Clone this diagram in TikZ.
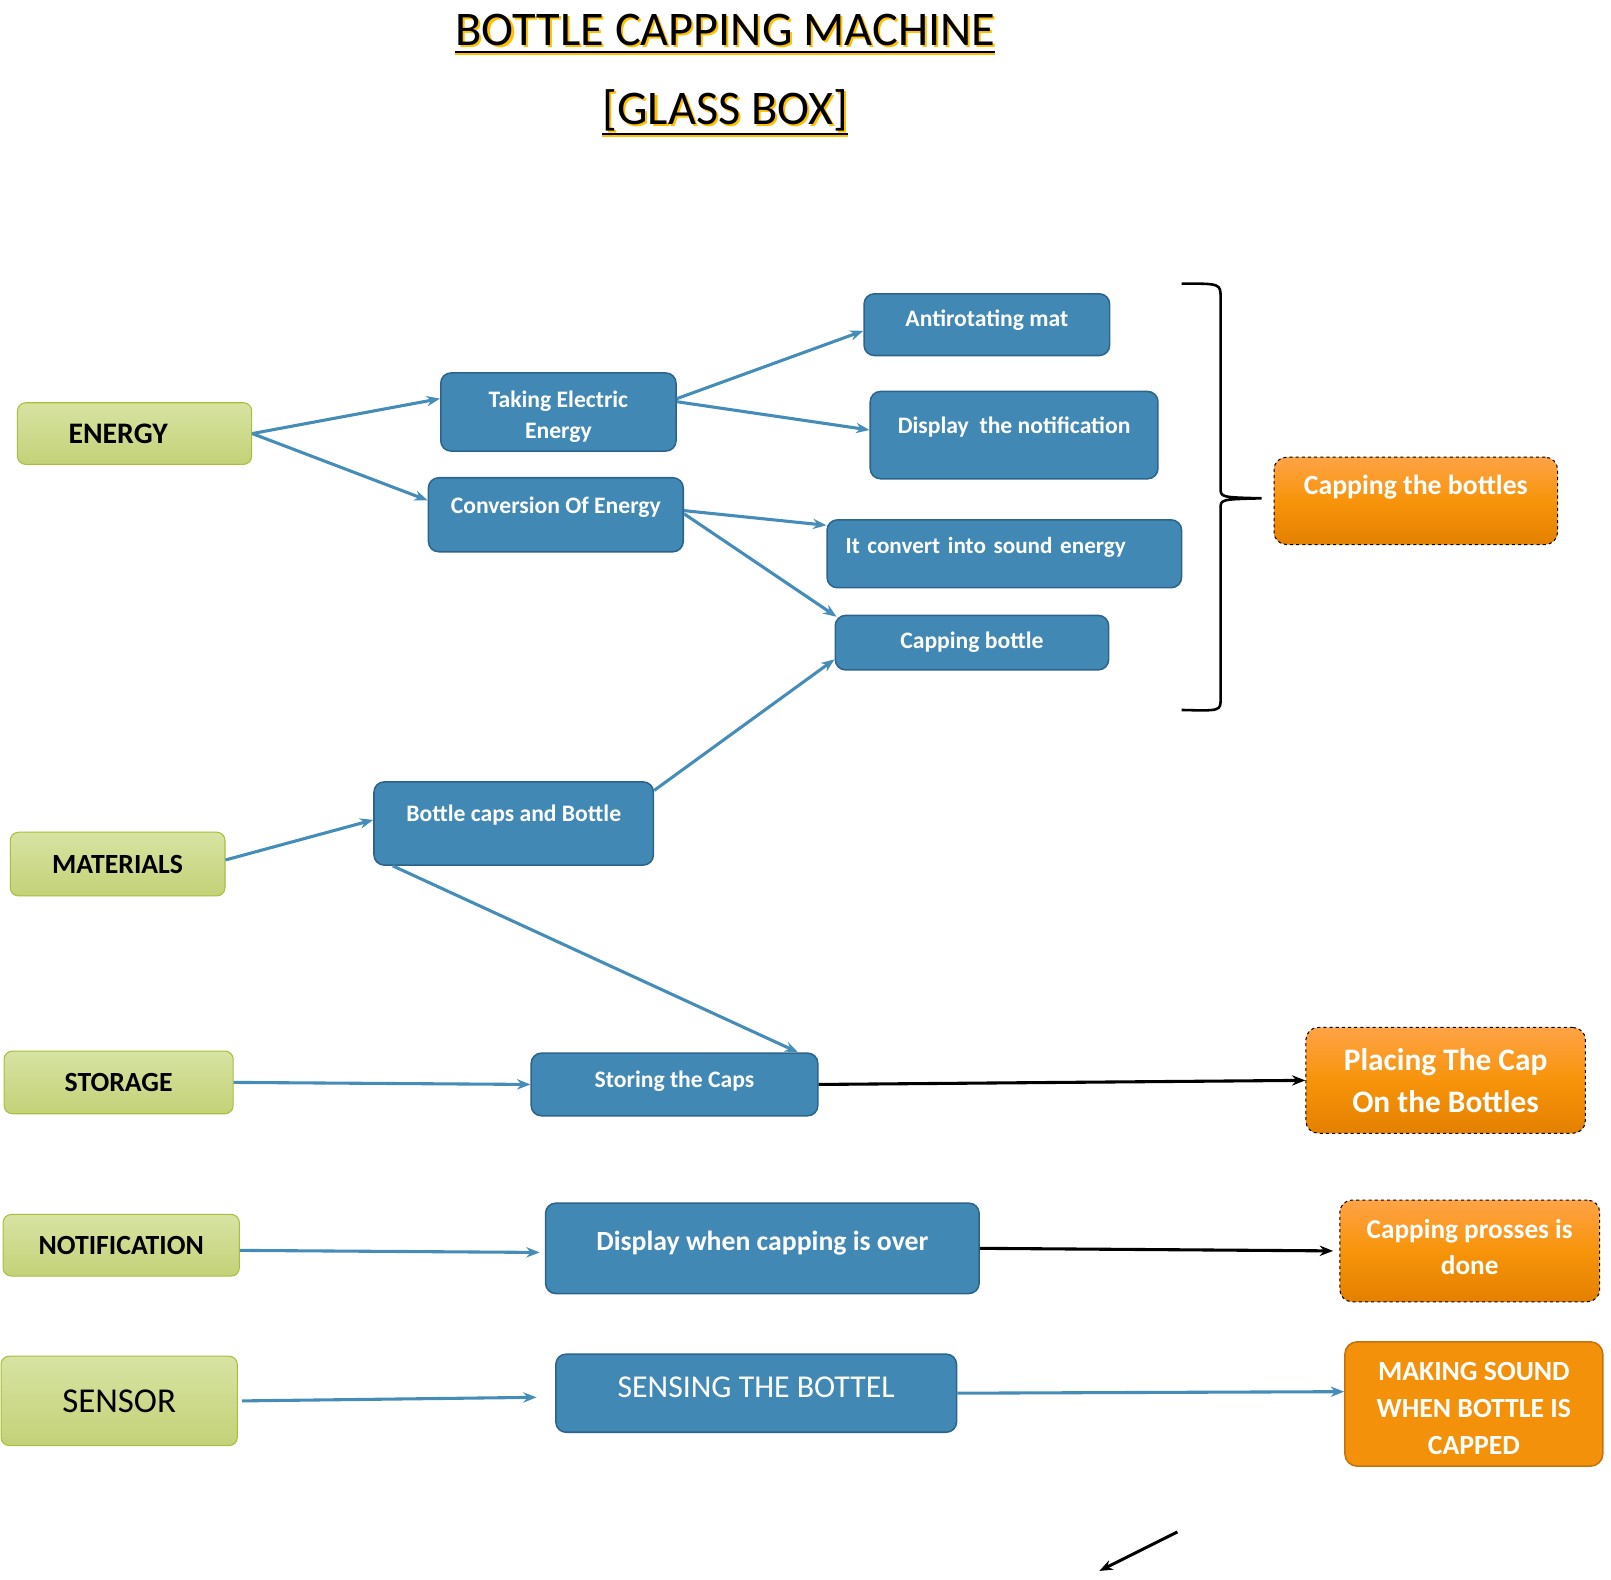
\documentclass[tikz,border=0pt]{standalone}
\usepackage{fontspec}
\setmainfont{Carlito}
\usepackage{xcolor}
\usepackage{tikz}
\usetikzlibrary{arrows.meta}

\definecolor{procblue}{RGB}{65,137,180}
\definecolor{procedge}{RGB}{45,100,140}
\definecolor{arrowblue}{RGB}{70,140,185}
\definecolor{greentop}{RGB}{215,227,162}
\definecolor{greenbot}{RGB}{195,210,120}
\definecolor{greenedge}{RGB}{170,190,60}
\definecolor{ortop}{RGB}{255,163,70}
\definecolor{ormid}{RGB}{247,148,10}
\definecolor{orbot}{RGB}{228,128,0}
\definecolor{orflat}{RGB}{243,146,10}
\definecolor{oredge}{RGB}{195,115,10}
\definecolor{titleyellow}{RGB}{255,192,0}

\newcommand{\fsz}[2]{\fontsize{#1}{#2}\selectfont}
\newcommand{\shadowed}[1]{\rlap{\kern2pt\raisebox{-2pt}{\color{titleyellow}#1}}#1}

\begin{document}
\begin{tikzpicture}[x=1pt,y=-1pt,
    inbox/.style={rounded corners=8pt, top color=greentop, bottom color=greenbot, draw=greenedge, line width=1pt, inner sep=0pt, font=\bfseries\fsz{27}{32}},
    procbox/.style={rounded corners=10pt, fill=procblue, draw=procedge, line width=1.5pt, text=white, inner sep=0pt, font=\bfseries\fsz{23}{30}},
    outbox/.style={rounded corners=12pt, top color=ortop, bottom color=orbot, middle color=ormid, draw=black, dashed, line width=1pt, text=white, inner sep=0pt, font=\bfseries\fsz{27}{38}},
    flow/.style={-{Stealth[length=13pt,width=10pt]}, line width=3pt, arrowblue},
    blackflow/.style={-{Stealth[length=13pt,width=10pt]}, line width=3pt, black}]
    \useasboundingbox (0,0) rectangle (1568,1537);

    % title
    \node[font=\fsz{47}{56}, inner sep=0pt] (title) at (706,30) {\shadowed{BOTTLE CAPPING MACHINE}};
    \node[font=\fsz{47}{56}, inner sep=0pt] (sub) at (706,108) {\shadowed{[GLASS BOX]}};
    \draw[titleyellow, line width=2.5pt] ([yshift=-6]title.south west) -- ([yshift=-6]title.south east);
    \draw[line width=2.5pt] ([yshift=-4]title.south west) -- ([yshift=-4]title.south east);
    \draw[titleyellow, line width=2.5pt] ([yshift=-3]sub.south west) -- ([yshift=-3]sub.south east);
    \draw[line width=2.5pt] ([yshift=-1]sub.south west) -- ([yshift=-1]sub.south east);

    % inputs
    \node[inbox, minimum width=228, minimum height=60, font=\bfseries\fsz{29}{34}] (energy) at (131,422) {ENERGY\kern32pt};
    \node[inbox, minimum width=209, minimum height=62] (mat) at (114.5,841) {MATERIALS};
    \node[inbox, minimum width=223, minimum height=61] (stor) at (115.5,1053.5) {STORAGE};
    \node[inbox, minimum width=230, minimum height=60] (notif) at (118,1212) {NOTIFICATION};
    \node[inbox, minimum width=230, minimum height=87, font=\fsz{34}{40}] (sens) at (116,1363.5) {SENSOR};

    % process
    \node[procbox, minimum width=229, text height=64, text depth=12, align=center] (take) at (543.5,401) {Taking Electric\\Energy};
    \node[procbox, minimum width=248, text height=35, text depth=37] (conv) at (541,501) {Conversion Of Energy};
    \node[procbox, minimum width=239, text height=32, text depth=28] (anti) at (960.5,316) {Antirotating mat};
    \node[procbox, minimum width=280, text height=41, text depth=44] (disp) at (987,423.5) {Display\ \ the notification};
    \node[procbox, text width=309, align=left, inner xsep=18, text height=33, text depth=33, font=\bfseries\fsz{22.5}{30}] (sound) at (977.5,539) {It convert into sound energy};
    \node[procbox, minimum width=266, text height=32, text depth=21] (capb) at (946,625.5) {Capping bottle};
    \node[procbox, minimum width=272, text height=39, text depth=42] (caps) at (500,801.5) {Bottle caps and Bottle};
    \node[procbox, minimum width=279, text height=33, text depth=28] (store) at (656.5,1055.5) {Storing the Caps};
    \node[procbox, minimum width=422, text height=46, text depth=42, font=\bfseries\fsz{27}{32}] (dispw) at (742,1215) {Display when capping is over};
    \node[procbox, minimum width=390, text height=42, text depth=34, font=\fsz{31}{36}] (sensing) at (736,1356) {SENSING THE BOTTEL};

    % outputs
    \node[outbox, minimum width=276, text height=36, text depth=49] (capall) at (1378,487.5) {Capping the bottles};
    \node[outbox, minimum width=272, minimum height=103, align=center, font=\bfseries\fsz{30.5}{41}] (place) at (1407,1051.5) {Placing The Cap\\On the Bottles};
    \node[outbox, minimum width=253, text height=72, text depth=27, align=center, font=\bfseries\fsz{26.5}{35}] (donebox) at (1430.5,1217.5) {Capping prosses is\\done};
    \node[outbox, solid, draw=oredge, line width=1.5pt, top color=orflat, bottom color=orflat, middle color=orflat, minimum width=251, text height=110, text depth=11, align=center, font=\bfseries\fsz{27}{36}] (soundout) at (1434.5,1366.5) {MAKING SOUND\\WHEN BOTTLE IS\\CAPPED};

    % brace
    \draw[line width=2.5pt] (1150,276) .. controls (1188,276) .. (1188,290) -- (1188,475) .. controls (1188,484) .. (1228,485) .. controls (1188,486) .. (1188,495) -- (1188,680) .. controls (1188,692) .. (1150,691);

    \draw[flow] (energy.east) -- ([yshift=13]take.west);
    \draw[flow] (energy.east) -- ([yshift=14]conv.west);
    \draw[flow] ([yshift=13]take.east) -- ([yshift=-6]anti.west);
    \draw[flow] ([yshift=10]take.east) -- ([yshift=5]disp.west);
    \draw[flow] ([yshift=4]conv.east) -- ([yshift=-6]sound.north west);
    \draw[flow] ([yshift=1]conv.east) -- ([xshift=2,yshift=-2]capb.north west);
    \draw[flow] ([yshift=-9]caps.north east) -- ([yshift=11]capb.south west);
    \draw[flow] ([yshift=4]mat.east) -- ([yshift=3.5]caps.west);
    \draw[flow] ([xshift=19]caps.south west) -- ([xshift=-20]store.north east);
    \draw[flow] (stor.east) -- (store.west);
    \draw[flow] ([yshift=-5]notif.east) -- ([xshift=-5,yshift=-4]dispw.west);
    \draw[flow] ([xshift=4]sens.east) -- ([xshift=-18,yshift=-4]sensing.west);
    \draw[flow] (sensing.east) -- ([yshift=12]soundout.west);

    \draw[blackflow] (store.east) -- (place.west);
    \draw[blackflow] (dispw.east) -- ([xshift=-6]donebox.west);

    \coordinate (p0) at (1146,1491);
    \coordinate (p1) at (1070,1529);
    \draw[blackflow] (p0) -- (p1);
\end{tikzpicture}
\end{document}
